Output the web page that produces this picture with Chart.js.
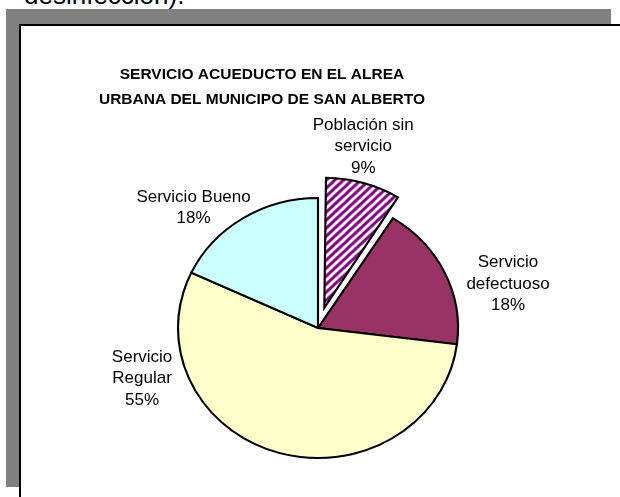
<!DOCTYPE html>
<html>
<head>
<meta charset="utf-8">
<script src="https://cdn.jsdelivr.net/npm/chart.js@4"></script>
<style>
  body { margin: 0; background: #fff; }
  #wrap { position: relative; width: 620px; height: 497px; overflow: hidden; font-family: "Liberation Sans", Arial, sans-serif; }
  #topText { position: absolute; left: 24px; top: -18px; font-size: 26px; line-height: 26px; color: #000; white-space: nowrap; }
  #shadow { position: absolute; left: 6px; top: 9px; width: 605px; height: 478px; background: #808080; }
  #box { position: absolute; left: 19px; top: 24px; width: 620px; height: 500px; background: #fff; border-top: 2px solid #000; border-left: 2px solid #000; }
  #pieChart { position: absolute; left: 0; top: 0; }
</style>
</head>
<body>
<div id="wrap">
  <div id="topText">desinfección).</div>
  <div id="shadow"></div>
  <div id="box"></div>
  <canvas id="pieChart" width="620" height="497"></canvas>
</div>
<script>
// datos del grafico
const chartTitle = ['SERVICIO ACUEDUCTO EN EL ALREA', 'URBANA DEL MUNICIPO DE SAN ALBERTO'];
const categories = ['Población sin servicio', 'Servicio defectuoso', 'Servicio Regular', 'Servicio Bueno'];
const values = [9, 18, 55, 18];

// texto de las etiquetas (lineas)
const labelLines = [['Población sin', 'servicio'], ['Servicio', 'defectuoso'], ['Servicio', 'Regular'], ['Servicio Bueno']];

// relleno rayado morado/blanco
function makeStripes() {
    let c = document.createElement('canvas');
    c.width = 8; c.height = 8;
    let g = c.getContext('2d');
    g.fillStyle = '#ffffff';
    g.fillRect(0, 0, 8, 8);
    g.strokeStyle = '#800080';
    g.lineWidth = 3;
    g.beginPath();
    g.moveTo(-2, 10); g.lineTo(10, -2);
    g.moveTo(-6, 6); g.lineTo(6, -6);
    g.moveTo(2, 14); g.lineTo(14, 2);
    g.stroke();
    return g.createPattern(c, 'repeat');
}

// el pastel de Excel es un poco ovalado
const stretchX = 140 / 130;

// posicion de cada etiqueta: angulo (grados desde arriba) y distancia al centro
const labelPlacement = [[14, 187], [77, 195], [254, 183], [314, 173]];

const ovalPlugin = {
    id: 'oval',
    beforeDatasetsDraw(chart) {
        const meta = chart.getDatasetMeta(0);
        const ctrl = meta.controller;
        // Chart.js agranda la porcion separada, se corrige aqui
        meta.data.forEach(function (arc) {
            const off = (arc.options.offset || 0) / 4;
            const fix = 1 - Math.sin(Math.min(Math.PI, arc.circumference));
            arc.outerRadius = ctrl.outerRadius - off * fix;
        });
        const c = chart.ctx;
        const a = meta.data[0];
        c.save();
        c.translate(a.x, a.y);
        c.scale(stretchX, 1);
        c.translate(-a.x, -a.y);
    },
    afterDatasetsDraw(chart) {
        chart.ctx.restore();
    }
};

const labelsPlugin = {
    id: 'excelLabels',
    afterDraw(chart) {
        const ctx = chart.ctx;
        const meta = chart.getDatasetMeta(0);
        const total = values.reduce((a, b) => a + b, 0);
        ctx.save();
        ctx.fillStyle = '#000';
        ctx.textAlign = 'center';
        ctx.textBaseline = 'middle';

        // titulo
        ctx.font = 'bold 15.5px "Liberation Sans", Arial, sans-serif';
        ctx.fillText(chartTitle[0], 262, 75);
        ctx.fillText(chartTitle[1], 262, 100);

        ctx.font = '17px "Liberation Sans", Arial, sans-serif';
        meta.data.forEach(function (arc, i) {
            const a = labelPlacement[i][0] * Math.PI / 180;
            const d = labelPlacement[i][1];
            const cx = arc.x + Math.sin(a) * d;
            const cy = arc.y - Math.cos(a) * d;
            const lines = labelLines[i].concat([Math.round(values[i] / total * 100) + '%']);
            const lh = 21.5;
            const y0 = cy - (lines.length - 1) * lh / 2;
            lines.forEach(function (t, k) {
                ctx.fillText(t, cx, y0 + k * lh);
            });
        });
        ctx.restore();
    }
};

const ctx = document.getElementById('pieChart').getContext('2d');
const pieChart = new Chart(ctx, {
    type: 'pie',
    data: {
        labels: categories,
        datasets: [{
            data: values,
            backgroundColor: [makeStripes(), '#993366', '#FFFFCC', '#CCFFFF'],
            borderColor: '#000000',
            borderWidth: 2,
            borderJoinStyle: 'miter',
            offset: [84, 0, 0, 0],
            clip: false
        }]
    },
    options: {
        responsive: false,
        animation: false,
        radius: 130,
        layout: { padding: { left: 166, right: 150, top: 200, bottom: 41 } },
        plugins: {
            legend: { display: false },
            tooltip: { enabled: false },
            title: { display: false }
        }
    },
    plugins: [ovalPlugin, labelsPlugin]
});
</script>
</body>
</html>
